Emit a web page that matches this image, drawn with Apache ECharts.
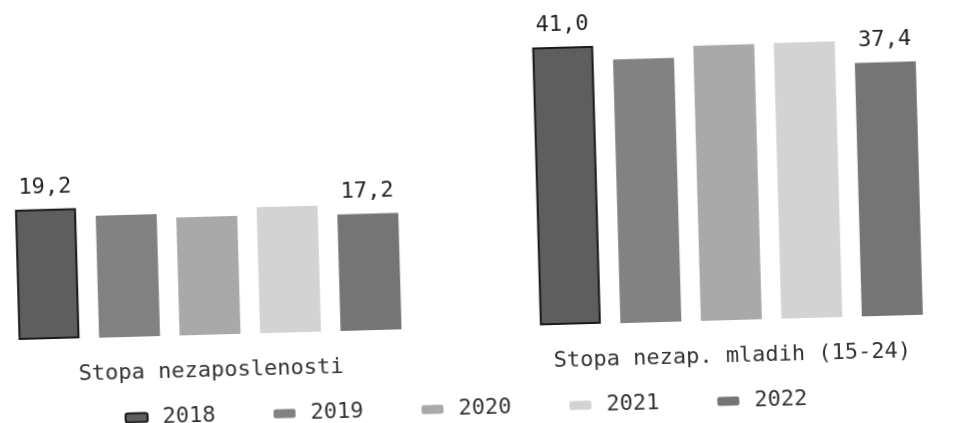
<!DOCTYPE html>
<html>
<head>
<meta charset="utf-8">
<script src="https://cdn.jsdelivr.net/npm/echarts@6/dist/echarts.min.js"></script>
<style>
  html, body { margin: 0; padding: 0; background: #fff; overflow: hidden; }
  /* the source is a slightly tilted scan */
  #stopa-chart { width: 964px; height: 423px; transform: rotate(-1.6deg); }
</style>
</head>
<body>
<div id="stopa-chart"></div>
<script>
const categories = ["Stopa nezaposlenosti", "Stopa nezap. mladih (15-24)"];
const years = ["2018", "2019", "2020", "2021", "2022"];
const values2018 = [19.2, 41.0];
const values2019 = [18.0, 38.9];
const values2020 = [17.4, 40.6];
const values2021 = [18.6, 40.7];
const values2022 = [17.2, 37.4];

const yearValues = [values2018, values2019, values2020, values2021, values2022];
const yearColors = ["#5e5e5e", "#828282", "#a9a9a9", "#d3d3d3", "#757575"];
const labelledYears = ["2018", "2022"];

const fontMono = "DejaVu Sans Mono";

let chart = echarts.init(document.getElementById("stopa-chart"));

let option = {
  animation: false,
  textStyle: { fontFamily: fontMono, color: "#222" },
  legend: {
    data: years,
    left: 114,
    top: 392,
    itemWidth: 22,
    itemHeight: 9,
    itemGap: 58,
    textStyle: {
      fontFamily: fontMono,
      fontSize: 22,
      color: "#333",
      padding: [0, 0, 0, 10]
    }
  },
  grid: {
    left: -54,
    right: -25,
    top: 22,
    bottom: 96,
    containLabel: false,
    outerBoundsMode: "none"  // chart is cropped on both sides in the source
  },
  xAxis: {
    type: "category",
    data: categories,
    axisLine: { show: false },
    axisTick: { show: false },
    axisLabel: {
      interval: 0,
      margin: 25,
      fontFamily: fontMono,
      fontSize: 22,
      color: "#333"
    }
  },
  yAxis: {
    type: "value",
    min: 0,
    max: 45,
    show: false,
    splitLine: { show: false }
  },
  series: years.map((year, i) => {
    return {
      name: year,
      type: "bar",
      barWidth: 61,
      barGap: "32%",
      data: yearValues[i],
      itemStyle: {
        color: yearColors[i],
        borderColor: i === 0 ? "#1a1a1a" : yearColors[i],
        borderWidth: i === 0 ? 2 : 0
      },
      label: {
        show: labelledYears.includes(year),
        position: "top",
        distance: 11,
        fontFamily: fontMono,
        fontSize: 22,
        color: "#222",
        formatter: p => p.value.toFixed(1).replace(".", ",")
      }
    };
  })
};

chart.setOption(option);
</script>
</body>
</html>
